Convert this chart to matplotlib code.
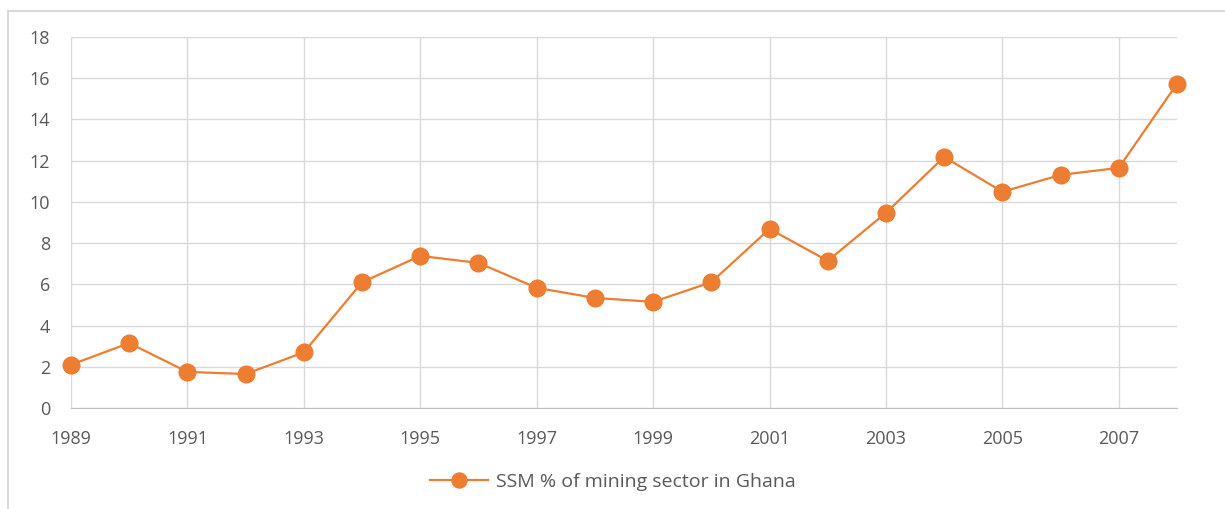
import matplotlib
matplotlib.use("Agg")
import matplotlib.pyplot as plt
from matplotlib.patches import Rectangle

years = list(range(1989, 2009))
values = [2.1, 3.15, 1.75, 1.65, 2.7, 6.1, 7.38, 7.04, 5.83, 5.34, 5.15,
          6.1, 8.69, 7.14, 9.47, 12.18, 10.49, 11.31, 11.65, 15.73]
xtick_labels = [str(y) for y in range(1989, 2009, 2)]
series_name = "SSM % of mining sector in Ghana"

plt.rcParams['font.family'] = ['Open Sans', 'DejaVu Sans']

fig = plt.figure(figsize=(12.25, 5.09), dpi=100)
fig.patches.append(Rectangle((8/1225, -0.1), 1.2, 1 - 11/509 + 0.1,
                             transform=fig.transFigure, fill=False,
                             edgecolor='#d9d9d9', linewidth=1.5))
ax = fig.add_axes([71/1225, 1 - 408/509, (1177 - 71)/1225, (408 - 37)/509])

ax.plot(years, values, color='#ED7D31', linewidth=1.6, marker='o',
        markersize=12, markerfacecolor='#ED7D31', markeredgecolor='#ED7D31',
        label=series_name, clip_on=False, zorder=3)

ax.set_xlim(1989, 2008)
ax.set_ylim(0, 18)
ax.set_yticks(range(0, 19, 2))
ax.set_xticks(range(1989, 2009, 2))
ax.set_xticklabels(xtick_labels)
ax.grid(True, color='#d9d9d9', linewidth=1)
ax.set_axisbelow(True)
for s in ['top', 'right', 'left']:
    ax.spines[s].set_visible(False)
ax.spines['bottom'].set_color('#bfbfbf')
ax.tick_params(axis='both', length=0, labelsize=13, labelcolor='#595959')
ax.tick_params(axis='y', pad=15)
ax.tick_params(axis='x', pad=16)

fig.legend(loc='center', bbox_to_anchor=(0.5, 1 - 482/509), frameon=False,
           fontsize=14, labelcolor='#595959', handlelength=3, markerscale=0.9,
           handletextpad=0.4)

fig.savefig('out.png', dpi=100, facecolor='white')
